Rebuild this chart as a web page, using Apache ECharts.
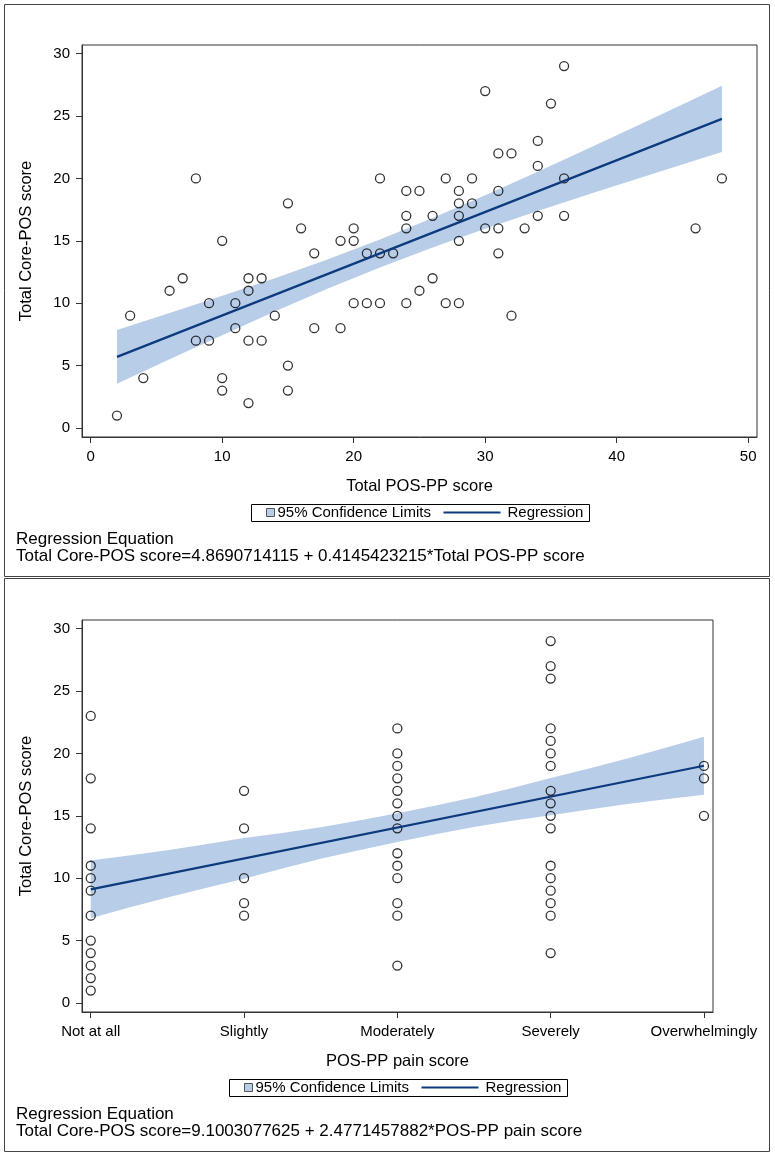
<!DOCTYPE html>
<html>
<head>
<meta charset="utf-8">
<script src="https://cdn.jsdelivr.net/npm/echarts@6/dist/echarts.min.js"></script>
<style>
html,body{margin:0;padding:0;background:#fff;}
#chart{width:775px;height:1159px;}
</style>
</head>
<body>
<div id="chart"></div>
<script>
// ---------- Data ----------
// Top panel: Total POS-PP score (x) vs Total Core-POS score (y)
const topPosPP   = [2,3,4,6,7,8,8,9,9,10,10,10,11,11,12,12,12,12,13,13,14,15,15,15,16,17,17,19,19,20,20,20,21,21,22,22,22,23,24,24,24,24,25,25,26,26,27,27,28,28,28,28,28,29,29,30,30,31,31,31,31,32,32,33,34,34,34,35,36,36,36,46,48];
const topCorePOS = [1,9,4,11,12,20,7,10,7,15,4,3,10,8,12,11,7,2,12,7,9,18,5,3,16,14,8,15,8,16,15,10,14,10,20,14,10,14,19,17,16,10,19,11,17,12,20,10,19,18,17,15,10,20,18,27,16,22,19,16,14,22,9,16,23,21,17,26,29,20,17,16,20];
const topRegX = [2, 48];
const topRegY = [5.70, 24.77];
const topBandX     = [2, 6, 10, 14, 18, 22, 26, 30, 34, 38, 42, 46, 48];
const topBandLower = [3.54, 5.51, 7.43, 9.33, 11.15, 12.87, 14.47, 15.97, 17.38, 18.77, 20.12, 21.46, 22.12];
const topBandUpper = [7.86, 9.21, 10.59, 12.01, 13.51, 15.11, 16.83, 18.65, 20.54, 22.47, 24.44, 26.42, 27.42];
const topXTicks = [0, 10, 20, 30, 40, 50];
const yTicks = [0, 5, 10, 15, 20, 25, 30];

// Bottom panel: POS-PP pain score (category) vs Total Core-POS score
const painCategories = ['Not at all', 'Slightly', 'Moderately', 'Severely', 'Overwhelmingly'];
const painNotAtAll      = [23,18,14,11,10,9,7,5,4,3,2,1];
const painSlightly      = [17,14,10,8,7];
const painModerately    = [22,20,19,18,17,16,15,14,12,11,10,8,7,3];
const painSeverely      = [29,27,26,22,21,20,19,17,16,15,14,11,10,9,8,7,4];
const painOverwhelmingly= [19,18,15];
const botRegX = [0, 4];
const botRegY = [9.10, 19.01];
const botBandX     = [0, 0.25, 0.5, 0.75, 1, 1.25, 1.5, 1.75, 2, 2.25, 2.5, 2.75, 3, 3.25, 3.5, 3.75, 4];
const botBandLower = [6.80, 7.65, 8.45, 9.22, 9.95, 10.78, 11.55, 12.25, 12.90, 13.52, 14.10, 14.60, 15.05, 15.50, 15.95, 16.32, 16.68];
const botBandUpper = [11.42, 11.82, 12.25, 12.72, 13.22, 13.63, 14.08, 14.62, 15.20, 15.82, 16.48, 17.22, 18.02, 18.80, 19.60, 20.45, 21.33];
const botXTicks = [0, 1, 2, 3, 4];

const topEquation = 'Total Core-POS score=4.8690714115 + 0.4145423215*Total POS-PP score';
const botEquation = 'Total Core-POS score=9.1003077625 + 2.4771457882*POS-PP pain score';

// ---------- Styles ----------
const FONT = '"Liberation Sans", Arial, sans-serif';
const BAND = '#b8cde7';
const NAVY = '#0d3a7e';
const AXIS = '#333';

const pairs = (xs, ys) => xs.map((x, i) => [x, ys[i]]);
const botPoints = [];
[painNotAtAll, painSlightly, painModerately, painSeverely, painOverwhelmingly].forEach((arr, ci) => {
  arr.forEach(v => botPoints.push([ci, v]));
});

function bandSeries(xIdx, bx, lo, hi) {
  return {
    type: 'custom', xAxisIndex: xIdx, yAxisIndex: xIdx, silent: true, z: 1,
    data: [[bx[0], lo[0]]],
    renderItem: function (params, api) {
      const pts = [];
      for (let i = 0; i < bx.length; i++) pts.push(api.coord([bx[i], hi[i]]));
      for (let i = bx.length - 1; i >= 0; i--) pts.push(api.coord([bx[i], lo[i]]));
      return { type: 'polygon', shape: { points: pts }, style: { fill: BAND } };
    }
  };
}

function scatterSeries(idx, data) {
  return {
    type: 'scatter', xAxisIndex: idx, yAxisIndex: idx, z: 3, silent: true,
    symbol: 'circle', symbolSize: 9, data: data,
    itemStyle: { color: 'rgba(0,0,0,0)', borderColor: '#000', borderWidth: 1.3 }
  };
}

function lineSeries(idx, xs, ys) {
  return {
    type: 'line', xAxisIndex: idx, yAxisIndex: idx, z: 4, silent: true,
    showSymbol: false, data: pairs(xs, ys),
    lineStyle: { color: NAVY, width: 2.2 }
  };
}

function xAxisDef(gi, min, max, ticks, name, fmt) {
  return {
    type: 'value', gridIndex: gi, min: min, max: max,
    axisLine: { show: true, onZero: false, lineStyle: { color: AXIS, width: 1 } },
    axisTick: { show: true, inside: false, length: 6, customValues: ticks, lineStyle: { color: AXIS } },
    axisLabel: { customValues: ticks, fontSize: 15, fontFamily: FONT, color: '#000', margin: 12, formatter: fmt },
    splitLine: { show: false },
    name: name, nameLocation: 'middle', nameGap: 41,
    nameTextStyle: { fontSize: 16.5, fontFamily: FONT, color: '#000' }
  };
}
function yAxisDef(gi) {
  return {
    type: 'value', gridIndex: gi, min: -0.72, max: 30.69,
    axisLine: { show: true, onZero: false, lineStyle: { color: AXIS, width: 1 } },
    axisTick: { show: true, inside: false, length: 6, customValues: yTicks, lineStyle: { color: AXIS } },
    axisLabel: { customValues: yTicks, fontSize: 15, fontFamily: FONT, color: '#000', margin: 12 },
    splitLine: { show: false },
    name: 'Total Core-POS score', nameLocation: 'middle', nameGap: 47,
    nameTextStyle: { fontSize: 16.5, fontFamily: FONT, color: '#000' }
  };
}

// grid geometry
const G1 = { left: 82, top: 45, width: 675, height: 392 };
const G2 = { left: 82, top: 620, width: 631, height: 392 };

function legendAndText(g, eq) {
  const cx = g.left + g.width / 2;
  const bx = Math.round(cx - 169) + 0.5;
  const base = g.top + g.height;
  const ly = base + 75.5;
  return [
    { type: 'rect', shape: { x: bx, y: Math.round(ly - 8.5) + 0.5, width: 338, height: 17 },
      style: { fill: '#fff', stroke: '#000', lineWidth: 1 } },
    { type: 'rect', shape: { x: bx + 15, y: Math.round(ly - 4.5) + 0.5, width: 8, height: 8 },
      style: { fill: BAND, stroke: '#555', lineWidth: 1 } },
    { type: 'text', x: bx + 26, y: ly, style: { text: '95% Confidence Limits', fontSize: 15, fontFamily: FONT, fill: '#000', verticalAlign: 'middle', align: 'left' } },
    { type: 'line', shape: { x1: bx + 192, y1: ly, x2: bx + 249, y2: ly }, style: { stroke: NAVY, lineWidth: 2.2 } },
    { type: 'text', x: bx + 256, y: ly, style: { text: 'Regression', fontSize: 15, fontFamily: FONT, fill: '#000', verticalAlign: 'middle', align: 'left' } },
    { type: 'text', x: 16, y: base + 102, style: { text: 'Regression Equation', fontSize: 17, fontFamily: FONT, fill: '#000', verticalAlign: 'middle', align: 'left' } },
    { type: 'text', x: 16, y: base + 119, style: { text: eq, fontSize: 17, fontFamily: FONT, fill: '#000', verticalAlign: 'middle', align: 'left' } }
  ];
}

const chart = echarts.init(document.getElementById('chart'), null, { renderer: 'canvas' });
chart.setOption({
  animation: false,
  backgroundColor: '#fff',
  grid: [
    Object.assign({ show: true, borderColor: AXIS, borderWidth: 1, backgroundColor: 'transparent' }, G1),
    Object.assign({ show: true, borderColor: AXIS, borderWidth: 1, backgroundColor: 'transparent' }, G2)
  ],
  xAxis: [
    xAxisDef(0, -0.66, 50.67, topXTicks, 'Total POS-PP score'),
    xAxisDef(1, -0.057, 4.059, botXTicks, 'POS-PP pain score', v => painCategories[Math.round(v)] || '')
  ],
  yAxis: [yAxisDef(0), yAxisDef(1)],
  series: [
    bandSeries(0, topBandX, topBandLower, topBandUpper),
    scatterSeries(0, pairs(topPosPP, topCorePOS)),
    lineSeries(0, topRegX, topRegY),
    bandSeries(1, botBandX, botBandLower, botBandUpper),
    scatterSeries(1, botPoints),
    lineSeries(1, botRegX, botRegY)
  ],
  graphic: [
    { type: 'rect', shape: { x: 4.5, y: 4.5, width: 765, height: 572 }, style: { fill: 'none', stroke: '#444', lineWidth: 1 } },
    { type: 'rect', shape: { x: 4.5, y: 578.5, width: 765, height: 573 }, style: { fill: 'none', stroke: '#444', lineWidth: 1 } }
  ].concat(legendAndText(G1, topEquation)).concat(legendAndText(G2, botEquation))
});
</script>
</body>
</html>
